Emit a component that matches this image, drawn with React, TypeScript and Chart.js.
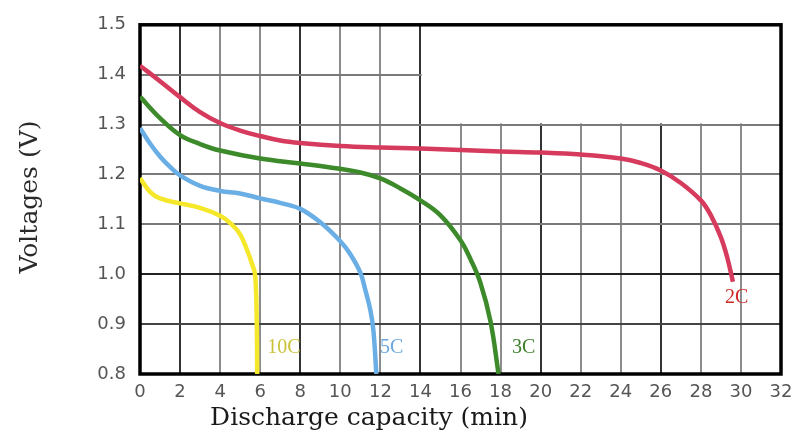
import React, { useEffect, useRef } from "react";
import { Chart, registerables } from "chart.js";

Chart.register(...registerables);

// ---- data ----
const x2C = [0, 1, 2, 3, 4, 5, 6, 7, 8, 10, 12, 14, 16, 18, 20, 22, 24, 25, 26, 27, 28, 28.5, 29, 29.3, 29.6];
const v2C = [1.418, 1.387, 1.355, 1.325, 1.303, 1.288, 1.277, 1.268, 1.263, 1.257, 1.254, 1.252, 1.249, 1.246, 1.244, 1.24, 1.232, 1.223, 1.208, 1.183, 1.148, 1.118, 1.074, 1.036, 0.985];

const x3C = [0, 1, 2, 3, 4, 6, 8, 9.5, 11, 12, 13, 14, 15, 16, 16.5, 17, 17.5, 17.9];
const v3C = [1.356, 1.313, 1.279, 1.261, 1.248, 1.232, 1.222, 1.214, 1.204, 1.192, 1.172, 1.148, 1.118, 1.068, 1.03, 0.982, 0.905, 0.8];

const x5C = [0, 0.5, 1, 1.5, 2, 3, 4, 5, 6, 7, 8, 9, 10, 10.5, 11, 11.25, 11.5, 11.65, 11.8];
const v5C = [1.293, 1.262, 1.236, 1.215, 1.198, 1.177, 1.167, 1.162, 1.152, 1.143, 1.131, 1.104, 1.066, 1.04, 1.003, 0.968, 0.928, 0.888, 0.8];

const x10C = [0, 0.5, 1, 2, 3, 4, 4.58, 5, 5.33, 5.6, 5.75, 5.83, 5.85];
const v10C = [1.193, 1.165, 1.152, 1.142, 1.133, 1.117, 1.1, 1.08, 1.05, 1.02, 0.998, 0.9, 0.8];

const seriesNames = ["2C", "3C", "5C", "10C"];
const seriesColors = ["#d63a5c", "#3c8a2a", "#6aaee6", "#f5e82a"];

const labelTexts = ["10C", "5C", "3C", "2C"];
const labelX = [6.35, 11.98, 18.57, 29.2];
const labelY = [0.852, 0.852, 0.852, 0.952];
const labelColors = ["#c9c23a", "#6aa6e0", "#3c7d2a", "#cc2a22"];

const xMin = 0, xMax = 32, xStep = 2;
const yMin = 0.8, yMax = 1.5, yStep = 0.1;
const blankX = [14, 32];
const blankY = [1.3, 1.5];

const xTitle = "Discharge capacity (min)";
const yTitle = "Voltages (V)";

const zip = (xs: number[], ys: number[]) => xs.map((x, i) => ({ x, y: ys[i] }));

export default function App() {
  const ref = useRef<HTMLCanvasElement | null>(null);

  useEffect(() => {
    if (!ref.current) return;
    const xsAll = [x2C, x3C, x5C, x10C];
    const vsAll = [v2C, v3C, v5C, v10C];

    const decor = {
      id: "decor",
      beforeDatasetsDraw(chart: any) {
        const { ctx, scales } = chart;
        const xs = scales.x, ys = scales.y;
        ctx.save();
        const l = xs.getPixelForValue(blankX[0]) + 1.2;
        const r = xs.getPixelForValue(blankX[1]);
        const t = ys.getPixelForValue(blankY[1]);
        const b = ys.getPixelForValue(blankY[0]) - 1.2;
        ctx.fillStyle = "#ffffff";
        ctx.fillRect(l, t, r - l, b - t);
        const a = chart.chartArea;
        ctx.strokeStyle = "#000";
        ctx.lineWidth = 3.5;
        ctx.strokeRect(a.left, a.top, a.right - a.left, a.bottom - a.top);
        ctx.restore();
      },
      afterDraw(chart: any) {
        const { ctx, scales } = chart;
        ctx.save();
        ctx.textBaseline = "middle";
        ctx.textAlign = "left";
        ctx.font = "20px 'Liberation Serif'";
        labelTexts.forEach((t, i) => {
          ctx.fillStyle = labelColors[i];
          ctx.fillText(t, scales.x.getPixelForValue(labelX[i]), scales.y.getPixelForValue(labelY[i]));
        });
        ctx.fillStyle = "#1a1a1a";
        ctx.textAlign = "center";
        ctx.font = "25px 'DejaVu Serif'";
        ctx.fillText(xTitle, 369, 418);
        ctx.translate(30, 197);
        ctx.rotate(-Math.PI / 2);
        ctx.fillStyle = "#2a2a2a";
        ctx.fillText(yTitle, 0, 0);
        ctx.restore();
      },
    };

    const chart = new Chart(ref.current, {
      type: "line",
      data: {
        datasets: seriesNames.map((n, i) => ({
          label: n,
          data: zip(xsAll[i], vsAll[i]),
          borderColor: seriesColors[i],
          backgroundColor: seriesColors[i],
          borderWidth: 4.5,
          pointRadius: 0,
          tension: 0.4,
          fill: false,
        })),
      },
      options: {
        animation: false,
        responsive: false,
        layout: { padding: { top: 24, right: 31, bottom: 0, left: 0 } },
        plugins: { legend: { display: false }, tooltip: { enabled: false } },
        scales: {
          x: {
            type: "linear",
            min: xMin,
            max: xMax,
            afterFit: (s: any) => { s.height = 63; },
            ticks: {
              stepSize: xStep,
              color: "#555",
              font: { family: "DejaVu Sans", size: 18 },
              padding: 8,
              maxRotation: 0,
              autoSkip: false,
            },
            grid: {
              drawTicks: false,
              lineWidth: 2,
              color: (c: any) => {
                const v = Math.round(c.tick?.value ?? 0);
                return (v - 2) % 6 === 0 ? "#333" : "#8c8c8c";
              },
            },
            border: { display: false },
          },
          y: {
            min: yMin,
            max: yMax,
            afterFit: (s: any) => { s.width = 140; },
            ticks: {
              stepSize: yStep,
              color: "#555",
              font: { family: "DejaVu Sans", size: 18 },
              padding: 14,
              callback: (v: any) => Number(v).toFixed(1),
            },
            grid: {
              drawTicks: false,
              lineWidth: 2,
              color: (c: any) => {
                const v = Math.round((c.tick?.value ?? 0) * 10);
                return v === 10 ? "#222" : v === 9 ? "#444" : "#7a7a7a";
              },
            },
            border: { display: false },
          },
        },
      },
      plugins: [decor],
    });
    return () => chart.destroy();
  }, []);

  return (
    <div style={{ position: "fixed", left: 0, top: 0, width: 812, height: 437, background: "#fff" }}>
      <canvas ref={ref} width={812} height={437} />
    </div>
  );
}
